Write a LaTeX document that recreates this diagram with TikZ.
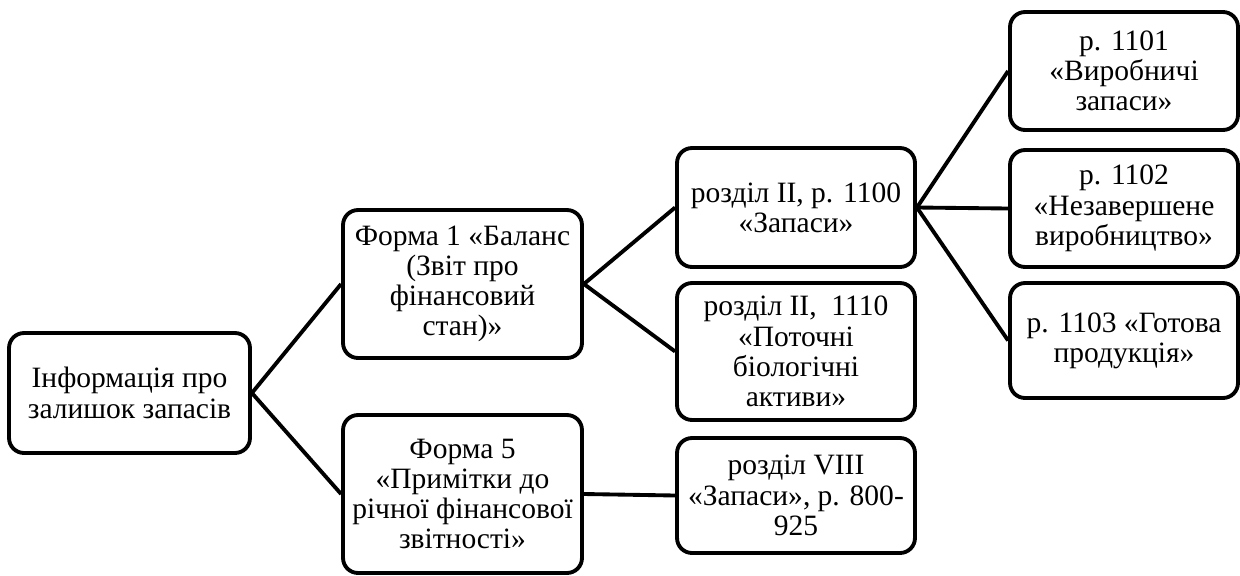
\documentclass[tikz,border=0pt]{standalone}
\usepackage{fontspec}
\setmainfont{Liberation Serif}
\tikzset{
  blok/.style={draw, line width=2.2pt, rounded corners=0.3cm, align=center,
    inner sep=2pt, font=\fontsize{16.8}{17.2}\selectfont},
  zvjazok/.style={line width=2.2pt}
}
\begin{document}
\begin{tikzpicture}[x=0.02cm,y=-0.02cm]
\useasboundingbox (0,0) rectangle (1240,575);

\node[blok, minimum width=4.82cm, minimum height=2.40cm] (info) at (129.5,393)
  {Інформація про\\залишок запасів};

\node[blok, minimum width=4.78cm, minimum height=2.96cm] (forma1) at (462.5,284)
  {Форма 1 «Баланс\\(Звіт про\\фінансовий\\стан)»};
\node[blok, minimum width=4.78cm, minimum height=3.16cm] (forma5) at (462.5,494)
  {Форма 5\\«Примітки до\\річної фінансової\\звітності»};

\node[blok, minimum width=4.76cm, minimum height=2.38cm] (r1100) at (796,207.5)
  {розділ II, р. 1100\\«Запаси»};
\node[blok, minimum width=4.76cm, minimum height=2.74cm] (r1110) at (796,351.5)
  {розділ II,~~1110\\«Поточні\\біологічні\\активи»};
\node[blok, minimum width=4.76cm, minimum height=2.30cm] (r800) at (796,495.5)
  {розділ VIII\\«Запаси», р. 800-\\925};

\node[blok, minimum width=4.56cm, minimum height=2.36cm] (r1101) at (1124,71)
  {р. 1101\\«Виробничі\\запаси»};
\node[blok, minimum width=4.56cm, minimum height=2.34cm] (r1102) at (1124,208.5)
  {р. 1102\\«Незавершене\\виробництво»};
\node[blok, minimum width=4.56cm, minimum height=2.30cm] (r1103) at (1124,340.5)
  {р. 1103 «Готова\\продукція»};

\draw[zvjazok] (info.east) -- (forma1.west);
\draw[zvjazok] (info.east) -- (forma5.west);
\draw[zvjazok] (forma1.east) -- (r1100.west);
\draw[zvjazok] (forma1.east) -- (r1110.west);
\draw[zvjazok] (forma5.east) -- (r800.west);
\draw[zvjazok] (r1100.east) -- (r1101.west);
\draw[zvjazok] (r1100.east) -- (r1102.west);
\draw[zvjazok] (r1100.east) -- (r1103.west);
\end{tikzpicture}
\end{document}
